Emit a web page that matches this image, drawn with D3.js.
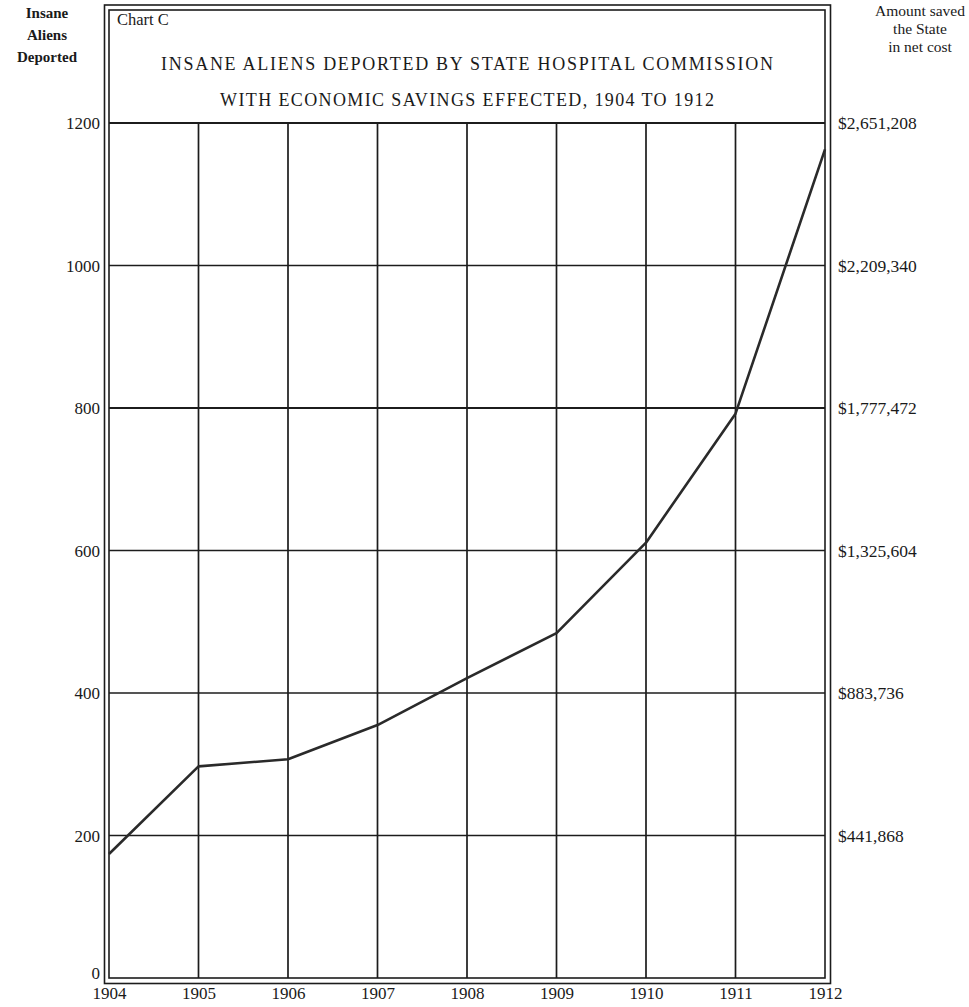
<!DOCTYPE html>
<html>
<head>
<meta charset="utf-8">
<script src="https://cdn.jsdelivr.net/npm/d3@7"></script>
<style>
html,body{margin:0;padding:0;background:#fff;}
svg{display:block;}
text{font-family:"Liberation Serif","DejaVu Serif",serif;fill:#1a1a1a;}
</style>
</head>
<body>
<svg id="chart" width="969" height="1007"></svg>
<script>
// ---- data ----
const years = [1904, 1905, 1906, 1907, 1908, 1909, 1910, 1911, 1912];
const deported = [174, 297, 307, 355, 421, 484, 611, 792, 1163];
const leftTicks = [0, 200, 400, 600, 800, 1000, 1200];
const rightTickValues = [200, 400, 600, 800, 1000, 1200];
const rightTickLabels = ["$441,868", "$883,736", "$1,325,604", "$1,777,472", "$2,209,340", "$2,651,208"];
const leftHeader = ["Insane", "Aliens", "Deported"];
const rightHeader = ["Amount saved", "the State", "in net cost"];
const chartLabel = "Chart C";
const titleLines = ["INSANE ALIENS DEPORTED BY STATE HOSPITAL COMMISSION",
                    "WITH ECONOMIC SAVINGS EFFECTED, 1904 TO 1912"];

const svg = d3.select("#chart");
const ink = "#1c1c1c";
const serif = "Liberation Serif, DejaVu Serif, serif";

const x = d3.scaleLinear().domain([1904, 1912]).range([109, 825]);
const y = d3.scaleLinear().domain([0, 1200]).range([978, 123]);

// frame (double line)
svg.append("rect").attr("x", 104.5).attr("y", 5).attr("width", 726).attr("height", 978.5)
  .attr("fill", "none").attr("stroke", ink).attr("stroke-width", 1.6);
svg.append("rect").attr("x", 109).attr("y", 10).attr("width", 716).attr("height", 968)
  .attr("fill", "none").attr("stroke", ink).attr("stroke-width", 1.6);

// horizontal grid
svg.append("g").selectAll("line").data(leftTicks.filter(d => d > 0)).join("line")
  .attr("x1", x(1904)).attr("x2", x(1912))
  .attr("y1", d => y(d)).attr("y2", d => y(d))
  .attr("stroke", ink)
  .attr("stroke-width", d => (d === 800 || d === 1200) ? 2 : 1.3);

// vertical grid
svg.append("g").selectAll("line").data(years.slice(1, -1)).join("line")
  .attr("x1", d => x(d)).attr("x2", d => x(d))
  .attr("y1", y(1200)).attr("y2", y(0))
  .attr("stroke", ink).attr("stroke-width", 1.7);

// left axis labels
const leftAxis = d3.axisLeft(y).tickValues(leftTicks).tickSize(0).tickPadding(0).tickFormat(d3.format("d"));
const gL = svg.append("g").attr("transform", "translate(100,0)").call(leftAxis)
  .attr("font-family", serif).attr("font-size", 17);
gL.select(".domain").remove();
gL.selectAll("text").attr("fill", ink)
  .attr("dy", d => d === 0 ? "0" : "0.34em");

// right axis labels
const rightAxis = d3.axisRight(y).tickValues(rightTickValues).tickSize(0).tickPadding(0)
  .tickFormat((d, i) => rightTickLabels[i]);
const gR = svg.append("g").attr("transform", "translate(838,0)").call(rightAxis)
  .attr("font-family", serif).attr("font-size", 17.5);
gR.select(".domain").remove();
gR.selectAll("text").attr("fill", ink).attr("dy", "0.34em");

// bottom axis labels
const bottomAxis = d3.axisBottom(x).tickValues(years).tickSize(0).tickPadding(0).tickFormat(d3.format("d"));
const gB = svg.append("g").attr("transform", "translate(0,987)").call(bottomAxis)
  .attr("font-family", serif).attr("font-size", 17);
gB.select(".domain").remove();
gB.selectAll("text").attr("fill", ink).attr("dy", "0.71em");

// data line
const line = d3.line().x((d, i) => x(years[i])).y(d => y(d));
svg.append("path").datum(deported).attr("d", line)
  .attr("fill", "none").attr("stroke", "#2a2a2a").attr("stroke-width", 2.6)
  .attr("stroke-linejoin", "round");

// headers
svg.append("g").selectAll("text").data(leftHeader).join("text")
  .attr("x", 47).attr("y", (d, i) => 18 + i * 22)
  .attr("text-anchor", "middle").attr("font-size", 15).attr("font-weight", "bold")
  .text(d => d);
svg.append("g").selectAll("text").data(rightHeader).join("text")
  .attr("x", 920).attr("y", (d, i) => 16 + i * 18)
  .attr("text-anchor", "middle").attr("font-size", 15.5)
  .text(d => d);

// title box
svg.append("text").attr("x", 117).attr("y", 25).attr("font-size", 16.5).text(chartLabel);
svg.append("text").attr("x", 467).attr("y", 70).attr("text-anchor", "middle")
  .attr("font-size", 18).attr("textLength", 612).attr("lengthAdjust", "spacing")
  .text(titleLines[0]);
svg.append("text").attr("x", 467).attr("y", 106).attr("text-anchor", "middle")
  .attr("font-size", 18).attr("textLength", 494).attr("lengthAdjust", "spacing")
  .text(titleLines[1]);
</script>
</body>
</html>
